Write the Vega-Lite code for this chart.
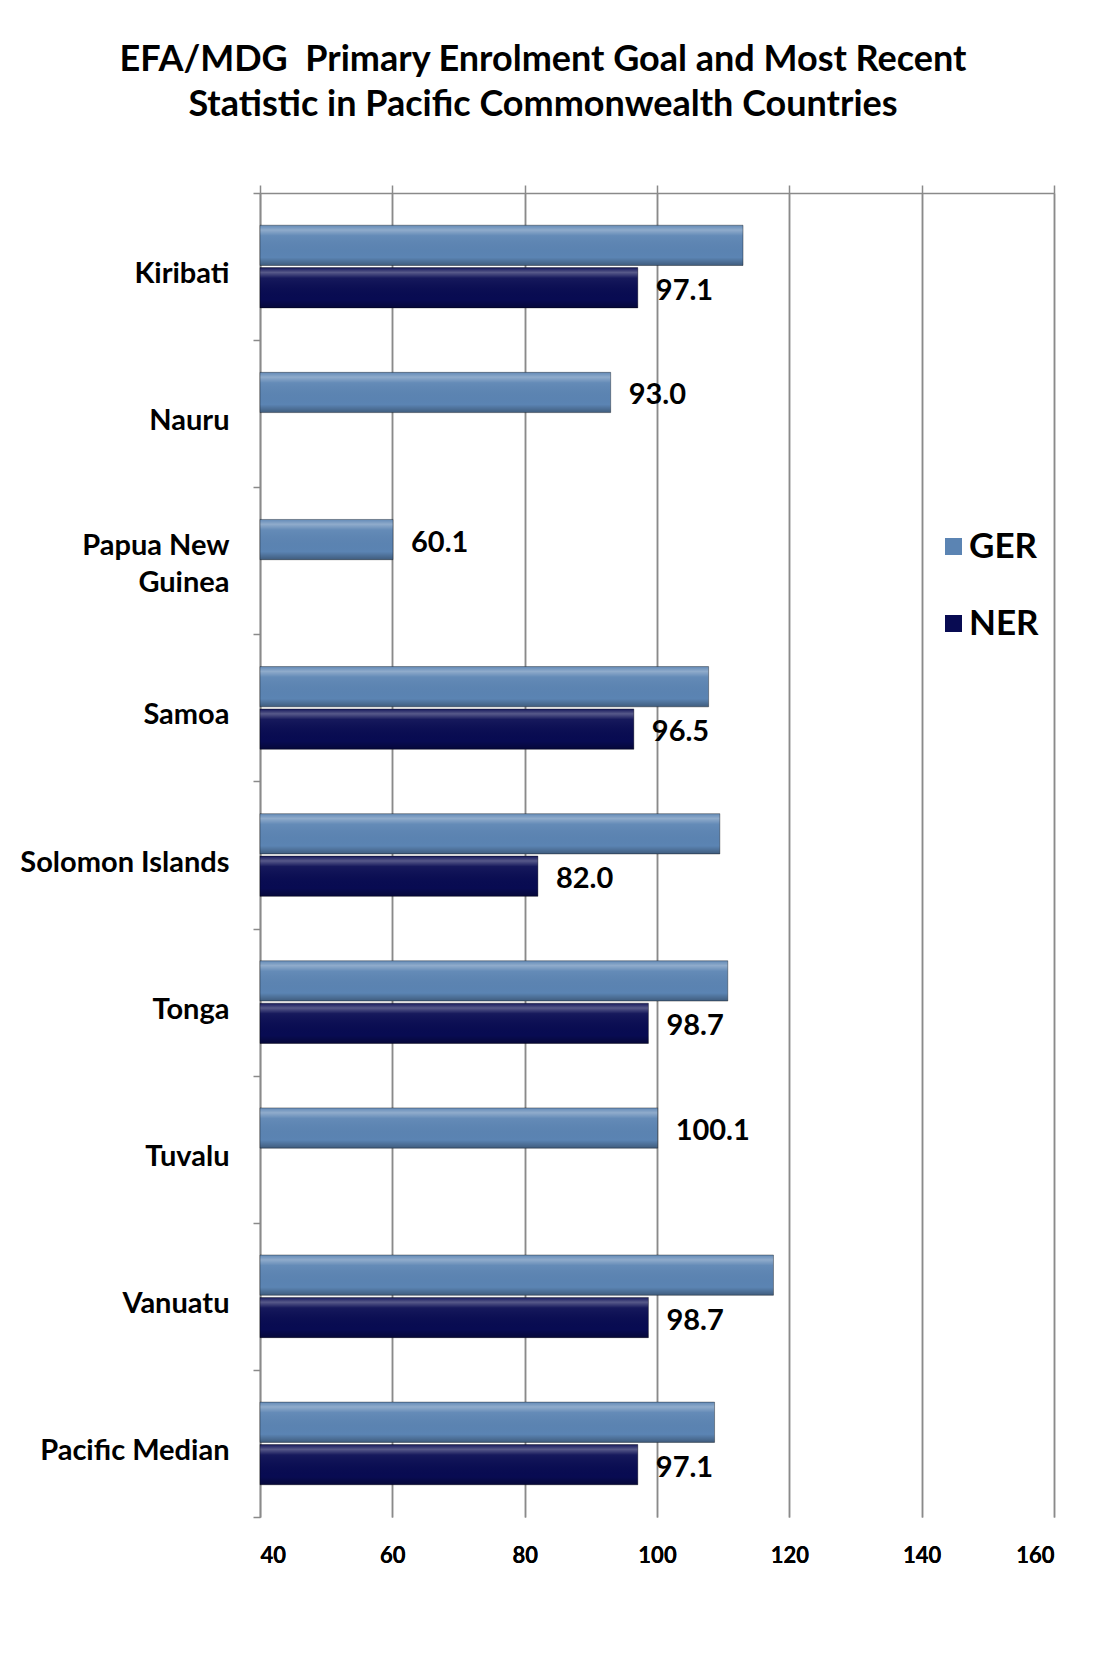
{
  "$schema": "https://vega.github.io/schema/vega-lite/v6.json",
  "width": 794,
  "height": 1324,
  "autosize": {"type": "none"},
  "padding": {"left": 260, "top": 193, "right": 44, "bottom": 147},
  "background": "white",
  "config": {"font": "Lato", "view": {"stroke": null}},
  "title": {
    "text": ["EFA/MDG\u00a0 Primary Enrolment Goal and Most Recent", "Statistic in Pacific Commonwealth Countries"],
    "fontSize": 36,
    "fontWeight": "bold",
    "color": "#000000",
    "anchor": "middle",
    "dx": -114,
    "offset": 55,
    "lineHeight": 45
  },
  "data": {
    "values": [
      {"country": "Kiribati", "series": "GER", "value": 113.0},
      {"country": "Kiribati", "series": "NER", "value": 97.1},
      {"country": "Nauru", "series": "GER", "value": 93.0},
      {"country": "Papua New Guinea", "series": "GER", "value": 60.1},
      {"country": "Samoa", "series": "GER", "value": 107.8},
      {"country": "Samoa", "series": "NER", "value": 96.5},
      {"country": "Solomon Islands", "series": "GER", "value": 109.5},
      {"country": "Solomon Islands", "series": "NER", "value": 82.0},
      {"country": "Tonga", "series": "GER", "value": 110.7},
      {"country": "Tonga", "series": "NER", "value": 98.7},
      {"country": "Tuvalu", "series": "GER", "value": 100.1},
      {"country": "Vanuatu", "series": "GER", "value": 117.6},
      {"country": "Vanuatu", "series": "NER", "value": 98.7},
      {"country": "Pacific Median", "series": "GER", "value": 108.7},
      {"country": "Pacific Median", "series": "NER", "value": 97.1}
    ]
  },
  "encoding": {
    "y": {
      "field": "country",
      "type": "nominal",
      "sort": ["Kiribati", "Nauru", "Papua New Guinea", "Samoa", "Solomon Islands", "Tonga", "Tuvalu", "Vanuatu", "Pacific Median"],
      "scale": {"paddingInner": 0, "paddingOuter": 0},
      "axis": {
        "title": null,
        "domain": true,
        "domainColor": "#8a8a8a",
        "domainWidth": 1.5,
        "ticks": true,
        "tickBand": "extent",
        "tickSize": 7,
        "tickColor": "#8a8a8a",
        "tickWidth": 1.5,
        "labelPadding": 24,
        "labelFontSize": 29,
        "labelFontWeight": "bold",
        "labelColor": "#000000",
        "labelAlign": "right",
        "labelLimit": 400,
        "labelLineHeight": 37,
        "labelOffset": {"condition": {"test": "datum.value == 'Papua New Guinea'", "value": -15}, "value": 7},
        "labelExpr": "datum.label == 'Papua New Guinea' ? ['Papua New', 'Guinea'] : datum.label",
        "grid": false
      }
    },
    "yOffset": {
      "field": "series",
      "type": "nominal",
      "scale": {"domain": ["GER", "NER"], "paddingInner": 0.05, "paddingOuter": 0.76}
    },
    "x": {
      "field": "value",
      "type": "quantitative",
      "scale": {"domain": [40, 160], "zero": false, "nice": false},
      "axis": {
        "orient": "bottom",
        "title": null,
        "values": [40, 60, 80, 100, 120, 140, 160],
        "domain": false,
        "ticks": false,
        "tickSize": 0,
        "labelPadding": 28,
        "labelFontSize": 22,
        "labelFontWeight": "bold",
        "labelColor": "#000000",
        "grid": true,
        "gridColor": "#8a8a8a",
        "gridWidth": 1.5
      }
    }
  },
  "layer": [
    {
      "mark": {"type": "bar"},
      "encoding": {
        "x2": {"datum": 40},
        "color": {
          "field": "series",
          "type": "nominal",
          "scale": {"domain": ["GER", "NER"], "range": ["#5b84b3", "#080b52"]},
          "legend": {
            "title": null,
            "orient": "none",
            "legendX": 676,
            "legendY": 336,
            "symbolType": "square",
            "symbolSize": 289,
            "symbolStrokeWidth": 0,
            "labelFontSize": 35,
            "labelFontWeight": "bold",
            "labelColor": "#000000",
            "labelOffset": -2,
            "rowPadding": 41,
            "padding": 0
          }
        }
      }
    },
    {
      "mark": {
        "type": "bar",
        "stroke": "rgba(0,0,0,0.35)",
        "strokeWidth": 1,
        "color": {
          "gradient": "linear",
          "x1": 0, "y1": 0, "x2": 0, "y2": 1,
          "stops": [
            {"offset": 0, "color": "rgba(255,255,255,0.05)"},
            {"offset": 0.12, "color": "rgba(255,255,255,0.32)"},
            {"offset": 0.26, "color": "rgba(255,255,255,0.06)"},
            {"offset": 0.8, "color": "rgba(0,0,0,0)"},
            {"offset": 1, "color": "rgba(0,0,0,0.3)"}
          ]
        }
      },
      "encoding": {
        "x": {
          "field": "value",
          "type": "quantitative",
          "axis": {
            "orient": "top",
            "title": null,
            "values": [40, 60, 80, 100, 120, 140, 160],
            "labels": false,
            "domain": true,
            "domainColor": "#8a8a8a",
            "domainWidth": 1.5,
            "ticks": true,
            "tickSize": 8,
            "tickColor": "#8a8a8a",
            "tickWidth": 1.5,
            "grid": false
          }
        },
        "x2": {"datum": 40}
      }
    },
    {
      "transform": [
        {"joinaggregate": [{"op": "count", "as": "n"}], "groupby": ["country"]},
        {"filter": "datum.series == 'NER' || datum.n == 1"}
      ],
      "mark": {"type": "text", "align": "left", "baseline": "middle", "dx": 18, "dy": 3, "fontSize": 29, "fontWeight": "bold", "color": "#000000"},
      "encoding": {
        "text": {"field": "value", "type": "quantitative", "format": ".1f"}
      }
    }
  ]
}
